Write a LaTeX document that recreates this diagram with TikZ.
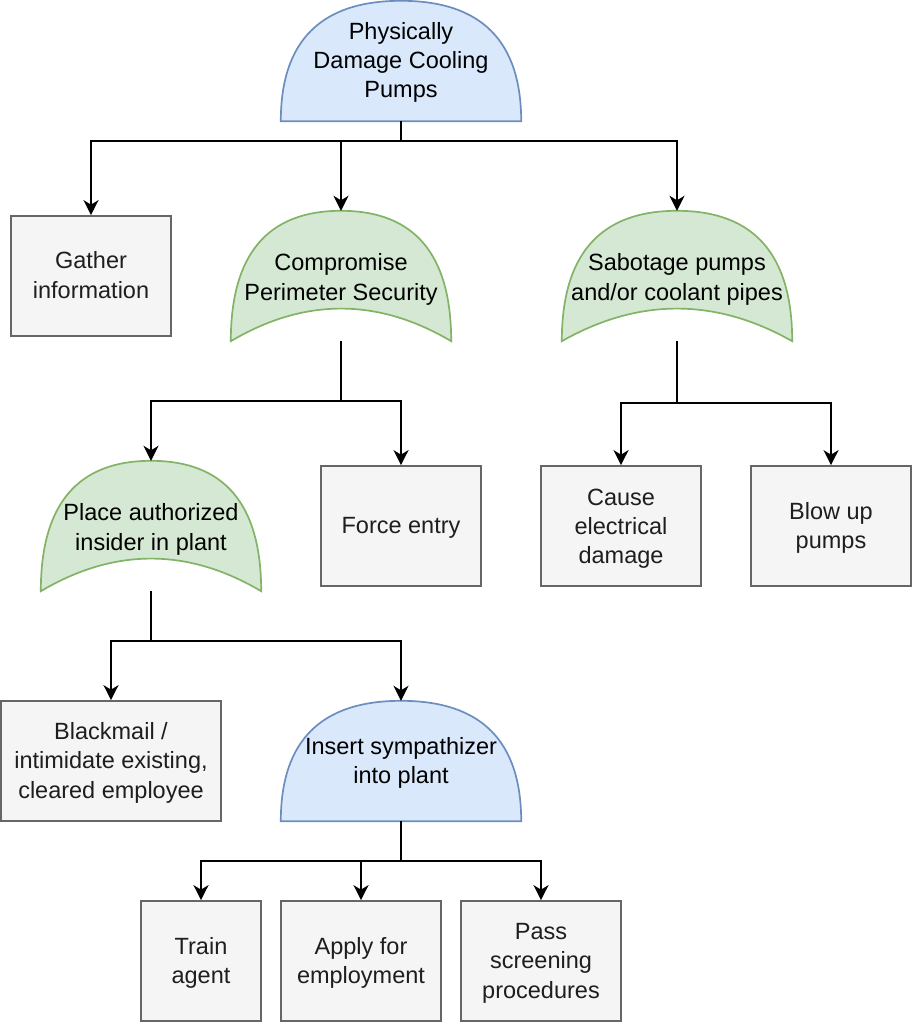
\documentclass[tikz,border=0pt]{standalone}
\usepackage{fontspec}
\setmainfont{Liberation Sans}
\usetikzlibrary{calc,arrows.meta,backgrounds}
\definecolor{andfill}{HTML}{DAE8FC}
\definecolor{andline}{HTML}{6C8EBF}
\definecolor{orfill}{HTML}{D5E8D4}
\definecolor{orline}{HTML}{82B366}
\definecolor{boxfill}{HTML}{F5F5F5}
\definecolor{boxline}{HTML}{666666}
\definecolor{boxtext}{HTML}{1E1E1E}
\newcommand\lowtext[2]{\raisebox{-#1pt}[\height][\depth]{\begin{tabular}{@{}c@{}}#2\end{tabular}}}
\tikzset{
  leaf/.style={draw=boxline, fill=boxfill, line width=1.7pt, inner sep=0pt,
    minimum width=160pt, minimum height=120pt, align=center, text=boxtext},
  gatenode/.style={inner sep=0pt, align=center, text=black},
  andshape/.style={draw=andline, fill=andfill, line width=1.7pt},
  orshape/.style={draw=orline, fill=orfill, line width=1.7pt},
  conn/.style={draw=black, line width=2pt, -{Stealth[length=15pt,width=15pt,inset=4.5pt]}},
}
\newcommand\drawand[1]{%
  \path[andshape] (#1.south west)
    .. controls ($(#1.south west)!2/3!(#1.north west)$) and ($(#1.north)!2/3!(#1.north west)$) .. (#1.north)
    .. controls ($(#1.north)!2/3!(#1.north east)$) and ($(#1.south east)!2/3!(#1.north east)$) .. (#1.south east)
    -- cycle;}
\newcommand\drawor[1]{%
  \path[orshape] (#1.south west)
    .. controls ($(#1.south west)!2/3!(#1.north west)$) and ($(#1.north)!2/3!(#1.north west)$) .. (#1.north)
    .. controls ($(#1.north)!2/3!(#1.north east)$) and ($(#1.south east)!2/3!(#1.north east)$) .. (#1.south east)
    .. controls ($(#1.south east)!2/3!(#1.center)$) and ($(#1.south west)!2/3!(#1.center)$) .. (#1.south west) -- cycle;}
\begin{document}
\begin{tikzpicture}[x=1pt,y=-1pt,font=\fontsize{23.5}{29.3}\selectfont]
\useasboundingbox (0,0) rectangle (914,1024);
% gates (invisible frames carrying the text)
\node[gatenode, minimum width=240pt, minimum height=120pt] (top) at (401,61) {\lowtext{1.5}{Physically\\Damage Cooling\\Pumps}};
\node[gatenode, minimum width=220pt, minimum height=130pt] (comp) at (341,276) {\lowtext{3.5}{Compromise\\Perimeter Security}};
\node[gatenode, minimum width=230pt, minimum height=130pt] (sab) at (677,276) {\lowtext{3.5}{Sabotage pumps\\and/or coolant pipes}};
\node[gatenode, minimum width=220pt, minimum height=130pt] (place) at (151,526) {\lowtext{3.5}{Place authorized\\insider in plant}};
\node[gatenode, minimum width=240pt, minimum height=120pt] (ins) at (401,761) {\lowtext{2}{Insert sympathizer\\into plant}};
\begin{scope}[on background layer]
  \drawand{top}
  \drawor{comp}
  \drawor{sab}
  \drawor{place}
  \drawand{ins}
\end{scope}
% leaves
\node[leaf] (gather) at (91,276) {\lowtext{1.5}{Gather\\information}};
\node[leaf] (force) at (401,526) {\lowtext{2}{Force entry}};
\node[leaf] (cause) at (621,526) {\lowtext{2.5}{Cause\\electrical\\damage}};
\node[leaf] (blow) at (831,526) {\lowtext{2}{Blow up\\pumps}};
\node[leaf, minimum width=220pt] (black) at (111,761) {\lowtext{2}{Blackmail /\\intimidate existing,\\cleared employee}};
\node[leaf, minimum width=120pt] (train) at (201,961) {\lowtext{2}{Train\\agent}};
\node[leaf] (apply) at (361,961) {\lowtext{2}{Apply for\\employment}};
\node[leaf] (pass) at (541,961) {\lowtext{2}{Pass\\screening\\procedures}};
% connectors
\draw[conn] (top.south) -- ++(0,20) -| (gather.north);
\draw[conn] (top.south) -- ++(0,20) -| (comp.north);
\draw[conn] (top.south) -- ++(0,20) -| (sab.north);
\draw[conn] (comp.south) -- ++(0,60) -| (place.north);
\draw[conn] (comp.south) -- ++(0,60) -| (force.north);
\draw[conn] (sab.south) -- ++(0,62) -| (cause.north);
\draw[conn] (sab.south) -- ++(0,62) -| (blow.north);
\draw[conn] (place.south) -- ++(0,50) -| (black.north);
\draw[conn] (place.south) -- ++(0,50) -| (ins.north);
\draw[conn] (ins.south) -- ++(0,40) -| (train.north);
\draw[conn] (ins.south) -- ++(0,40) -| (apply.north);
\draw[conn] (ins.south) -- ++(0,40) -| (pass.north);
\end{tikzpicture}
\end{document}
